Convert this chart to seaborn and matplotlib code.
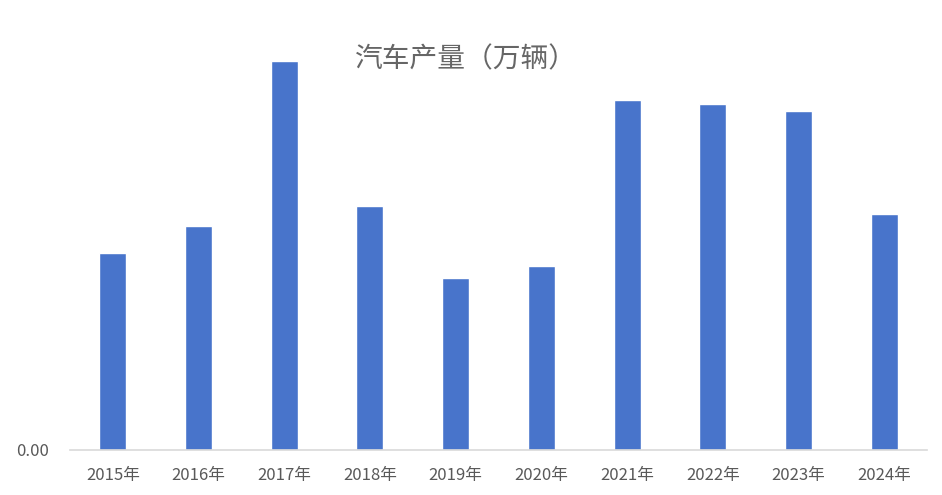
import matplotlib
matplotlib.use('Agg')
import matplotlib.pyplot as plt
import seaborn as sns
import pandas as pd

# data (relative bar heights)
years = ['2015年', '2016年', '2017年', '2018年', '2019年',
         '2020年', '2021年', '2022年', '2023年', '2024年']
output = [1975, 2245, 3895, 2445, 1725, 1845, 3505, 3465, 3395, 2365]

df = pd.DataFrame({'year': years, 'output': output})

sns.set_style('white')
plt.rcParams['font.family'] = ['Noto Sans CJK SC', 'DejaVu Sans']

fig = plt.figure(figsize=(9.42, 4.95), dpi=100)
ax = fig.add_axes([70 / 942, 45 / 495, 857 / 942, 410 / 495])

sns.barplot(data=df, x='year', y='output', color='#4874cb', width=0.315,
            saturation=1, ax=ax)

ax.set_ylim(0, 4100)
ax.set_xlim(-0.5, len(years) - 0.5)
ax.set_yticks([0])
ax.set_yticklabels(['0.00'])
ax.set_xlabel('')
ax.set_ylabel('')

for s in ['top', 'right', 'left']:
    ax.spines[s].set_visible(False)
ax.spines['bottom'].set_color('#d9d9d9')
ax.spines['bottom'].set_linewidth(1.2)

ax.tick_params(axis='both', length=0, labelsize=12, colors='#595959')
ax.tick_params(axis='x', pad=12)
ax.tick_params(axis='y', pad=15)

fig.text(466 / 942, 1 - 59 / 495, '汽车产量（万辆）', ha='center', va='center',
         fontsize=20, color='#666666', fontweight='light')

fig.savefig('out.png', dpi=100)
